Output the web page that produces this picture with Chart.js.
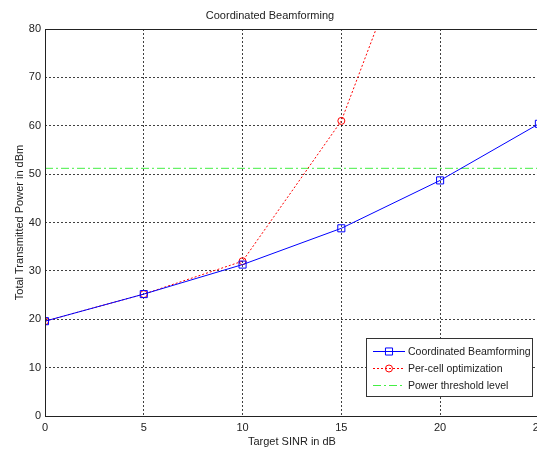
<!DOCTYPE html>
<html>
<head>
<meta charset="utf-8">
<script src="https://cdn.jsdelivr.net/npm/chart.js@4.4.1/dist/chart.umd.min.js"></script>
<style>
  html, body { margin: 0; padding: 0; background: #fff; overflow: hidden; }
  #wrap { position: relative; width: 550px; height: 450px; }
</style>
</head>
<body>
<div id="wrap"><canvas id="chart"></canvas></div>
<script>
// Target SINR (dB) values on the x axis
const sinrDb = [0, 5, 10, 15, 20, 25];
// Total transmitted power (dBm)
const coordinatedPower = [19.6, 25.2, 31.3, 38.8, 48.7, 60.4];
const perCellSinr = [0, 5, 10, 15, 20];
const perCellPower = [19.6, 25.2, 32.0, 61.0, 115];
const thresholdSinr = [0, 25];
const thresholdPower = [51.2, 51.2];
const yTicks = [0, 10, 20, 30, 40, 50, 60, 70, 80];

const FONT = "'Liberation Sans', Arial, sans-serif";

const toPoints = (xs, ys) => xs.map((x, i) => ({ x: x, y: ys[i] }));

// Boxed MATLAB-style legend in the lower right of the plot
const boxLegend = {
  id: "boxLegend",
  afterDraw(chart) {
    const ctx = chart.ctx;
    const left = 366, top = 338, w = 166, h = 58;
    ctx.save();
    ctx.fillStyle = "#fff";
    ctx.fillRect(left, top, w, h);
    ctx.strokeStyle = "#333";
    ctx.lineWidth = 1;
    ctx.strokeRect(left + 0.5, top + 0.5, w, h);
    chart.data.datasets.forEach((ds, i) => {
      const y = top + 13 + i * 17;
      ctx.strokeStyle = ds.borderColor;
      ctx.lineWidth = 1;
      ctx.setLineDash(ds.borderDash || []);
      ctx.beginPath();
      ctx.moveTo(373, y + 0.5);
      ctx.lineTo(405, y + 0.5);
      ctx.stroke();
      ctx.setLineDash([]);
      if (ds.pointRadius > 0) {
        ctx.fillStyle = "rgba(0,0,0,0)";
        ctx.strokeStyle = ds.pointBorderColor;
        Chart.helpers.drawPoint(ctx, {
          pointStyle: ds.pointStyle,
          radius: ds.pointRadius,
          borderWidth: 1,
        }, 389, y + 0.5);
      }
      ctx.fillStyle = "#222";
      ctx.font = "10.5px " + FONT;
      ctx.textAlign = "left";
      ctx.textBaseline = "middle";
      ctx.fillText(ds.label, 408, y + 1);
    });
    ctx.restore();
  },
};

// Solid frame around the axes
const axesBox = {
  id: "axesBox",
  afterDatasetsDraw(chart) {
    const a = chart.chartArea;
    const ctx = chart.ctx;
    ctx.save();
    ctx.strokeStyle = "#222";
    ctx.lineWidth = 1;
    ctx.strokeRect(Math.round(a.left) + 0.5, Math.round(a.top) + 0.5, a.right - a.left, a.bottom - a.top);
    ctx.restore();
  },
};

new Chart(document.getElementById("chart"), {
  type: "line",
  data: {
    datasets: [
      {
        label: "Coordinated Beamforming",
        data: toPoints(sinrDb, coordinatedPower),
        borderColor: "#0000ff",
        backgroundColor: "rgba(0,0,0,0)",
        borderWidth: 1,
        pointStyle: "rect",
        pointRadius: 5,
        pointBorderWidth: 1,
        pointBorderColor: "#0000ff",
        pointBackgroundColor: "rgba(0,0,0,0)",
      },
      {
        label: "Per-cell optimization",
        data: toPoints(perCellSinr, perCellPower),
        borderColor: "#ff0000",
        backgroundColor: "rgba(0,0,0,0)",
        borderWidth: 1,
        borderDash: [2, 2],
        pointStyle: "circle",
        pointRadius: 3.5,
        pointBorderWidth: 1,
        pointBorderColor: "#ff0000",
        pointBackgroundColor: "rgba(0,0,0,0)",
      },
      {
        label: "Power threshold level",
        data: toPoints(thresholdSinr, thresholdPower),
        borderColor: "#44ee44",
        backgroundColor: "rgba(0,0,0,0)",
        borderWidth: 1,
        borderDash: [8, 3, 2, 3],
        pointRadius: 0,
      },
    ],
  },
  options: {
    responsive: true,
    maintainAspectRatio: false,
    animation: false,
    events: [],
    layout: { padding: { left: 0, right: 10, top: 0, bottom: 0 } },
    plugins: {
      legend: { display: false },
      tooltip: { enabled: false },
      title: {
        display: true,
        text: "Coordinated Beamforming",
        color: "#222",
        font: { family: FONT, size: 11, weight: "normal", lineHeight: 1.2 },
        padding: { top: 9, bottom: 6.8 },
      },
    },
    scales: {
      x: {
        type: "linear",
        min: 0,
        max: 25,
        afterBuildTicks: (s) => { s.ticks = sinrDb.map((v) => ({ value: v })); },
        afterFit: (s) => { s.height = 34; },
        grid: { color: "rgba(0,0,0,0.75)", drawTicks: false },
        border: { display: false, dash: [2, 2] },
        ticks: { color: "#222", padding: 5, maxRotation: 0, font: { family: FONT, size: 11 } },
        title: {
          display: true,
          text: "Target SINR in dB",
          color: "#222",
          font: { family: FONT, size: 11, lineHeight: 1.2 },
          padding: { top: 0, bottom: 1 },
        },
      },
      y: {
        min: 0,
        max: 80,
        afterBuildTicks: (s) => { s.ticks = yTicks.map((v) => ({ value: v })); },
        afterFit: (s) => { s.width = 45; },
        grid: { color: "rgba(0,0,0,0.75)", drawTicks: false },
        border: { display: false, dash: [2, 2] },
        ticks: { color: "#222", padding: 4, font: { family: FONT, size: 11 } },
        title: {
          display: true,
          text: "Total Transmitted Power in dBm",
          color: "#222",
          font: { family: FONT, size: 11, lineHeight: 1.2 },
          padding: { top: 13, bottom: 0 },
        },
      },
    },
  },
  plugins: [axesBox, boxLegend],
});
</script>
</body>
</html>
